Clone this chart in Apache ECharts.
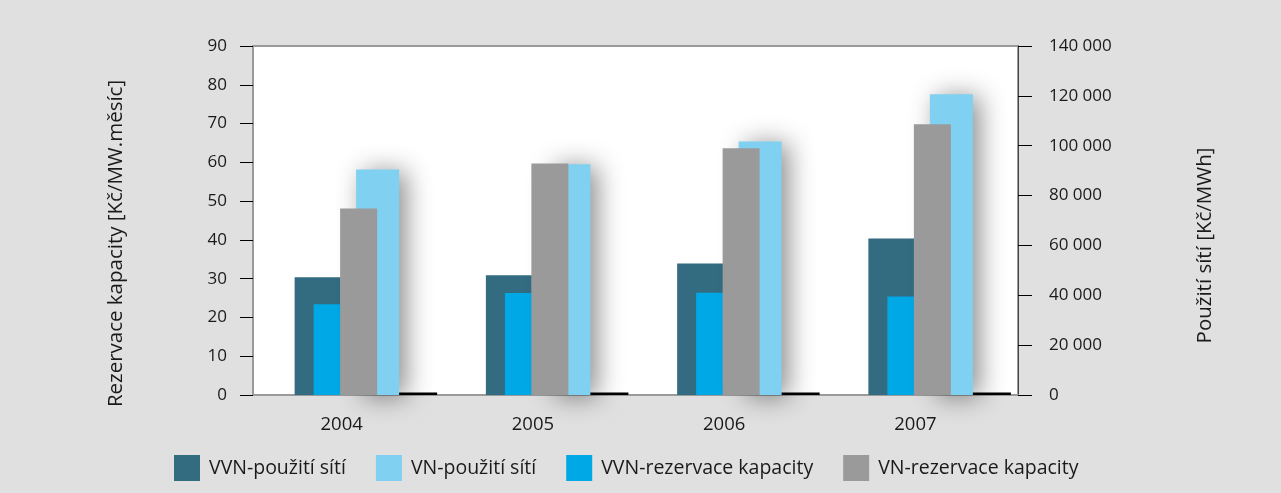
<!DOCTYPE html>
<html>
<head>
<meta charset="utf-8">
<script src="https://cdn.jsdelivr.net/npm/echarts@6/dist/echarts.min.js"></script>
<style>
  html, body { margin: 0; padding: 0; background: #e0e0e0; }
  #graf { width: 1281px; height: 493px; }
</style>
</head>
<body>
<div id="graf"></div>
<script>
// data
const roky = ['2004', '2005', '2006', '2007'];
const vvnPouziti = [47200, 48000, 52800, 62800];      // Kč/MWh, pravá osa
const vnPouziti = [90500, 92600, 101700, 120600];     // Kč/MWh, pravá osa
const vvnRezervace = [23.4, 26.3, 26.4, 25.4];        // Kč/MW.měsíc, levá osa
const vnRezervace = [48.1, 59.7, 63.6, 69.8];         // Kč/MW.měsíc, levá osa
const nulovaRada = [0, 0, 0, 0];
const levaOsaTicky = [0, 90, 10];
const pravaOsaTicky = [0, 140000, 20000];

const barvy = ['#336b80', '#7fd0f1', '#00a8e6', '#9a9a9a'];
const nazvy = ['VVN-použití sítí', 'VN-použití sítí', 'VVN-rezervace kapacity', 'VN-rezervace kapacity'];

const font = '"Open Sans", "Noto Sans", sans-serif';
const gridLeft = 253, gridRight = 263, gridTop = 46, gridBottom = 98;
// posun sloupců vůči středu kategorie (px)
const posuny = [0, -31, -20, 63.5, 29, 10];

var chart = echarts.init(document.getElementById('graf'));

let grids = posuny.map((dx, i) => ({
  left: gridLeft + dx,
  right: gridRight - dx,
  top: gridTop,
  bottom: gridBottom,
  show: i === 0,
  backgroundColor: '#fff',
  borderColor: '#9a9a9a',
  borderWidth: i === 0 ? 2 : 0
}));

let xAxes = posuny.map((dx, i) => ({
  type: 'category',
  gridIndex: i,
  data: roky,
  show: i === 0,
  axisLine: { lineStyle: { color: '#9a9a9a', width: 2 } },
  axisTick: { length: 12, lineStyle: { color: '#000', width: 1 } },
  axisLabel: { fontSize: 18.5, color: '#1a1a1a', fontFamily: font, margin: 20, padding: [0, 14, 0, 0] }
}));

function mezery(v) {
  return String(v).replace(/\B(?=(\d{3})+(?!\d))/g, ' ');
}

let yAxes = [
  {
    type: 'value', gridIndex: 0, position: 'left',
    min: levaOsaTicky[0], max: levaOsaTicky[1], interval: levaOsaTicky[2],
    name: 'Rezervace kapacity [Kč/MW.měsíc]',
    nameLocation: 'middle', nameRotate: 90, nameGap: 126,
    nameTextStyle: { fontSize: 20.5, color: '#1a1a1a', fontFamily: font, padding: [0, 46, 0, 0] },
    axisLine: { show: true, lineStyle: { color: '#9a9a9a', width: 2 } },
    axisTick: { show: true, length: 13, lineStyle: { color: '#000', width: 1 } },
    axisLabel: { fontSize: 17, color: '#1a1a1a', fontFamily: font, margin: 26 },
    splitLine: { show: false }
  },
  {
    type: 'value', gridIndex: 0, position: 'right',
    min: pravaOsaTicky[0], max: pravaOsaTicky[1], interval: pravaOsaTicky[2],
    name: 'Použití sítí [Kč/MWh]',
    nameLocation: 'middle', nameRotate: 90, nameGap: 177,
    nameTextStyle: { fontSize: 20.5, color: '#1a1a1a', fontFamily: font, padding: [0, 50, 0, 0] },
    axisLine: { show: true, lineStyle: { color: '#444', width: 1 } },
    axisTick: { show: true, length: 14, lineStyle: { color: '#000', width: 1 } },
    axisLabel: { fontSize: 17, color: '#1a1a1a', fontFamily: font, margin: 31, formatter: mezery },
    splitLine: { show: false }
  }
];
// skryté osy pro posunuté mřížky
const skalaMrizky = [null, 'prava', 'leva', 'leva', 'prava', 'leva'];
for (let i = 1; i < posuny.length; i++) {
  const t = skalaMrizky[i] === 'prava' ? pravaOsaTicky : levaOsaTicky;
  yAxes.push({ type: 'value', gridIndex: i, show: false, min: t[0], max: t[1], splitLine: { show: false } });
}

var option = {
  backgroundColor: '#e0e0e0',
  animation: false,
  grid: grids,
  xAxis: xAxes,
  yAxis: yAxes,
  legend: {
    data: nazvy,
    bottom: 7,
    left: 169,
    itemWidth: 26,
    itemHeight: 26,
    itemGap: 30,
    icon: 'rect',
    textStyle: { fontSize: 19.5, color: '#1a1a1a', fontFamily: font, padding: [0, 0, 0, 4] }
  },
  series: [
    {
      name: nazvy[0], type: 'bar', data: vvnPouziti,
      xAxisIndex: 1, yAxisIndex: 2, barWidth: 46, clip: false,
      itemStyle: { color: barvy[0] }
    },
    {
      name: nazvy[2], type: 'bar', data: vvnRezervace,
      xAxisIndex: 2, yAxisIndex: 3, barWidth: 30, clip: false,
      itemStyle: { color: barvy[2] }
    },
    {
      name: 'nula', type: 'bar', data: nulovaRada,
      xAxisIndex: 3, yAxisIndex: 4, barWidth: 50, barMinHeight: 2.5, clip: false,
      itemStyle: { color: '#000' }
    },
    {
      name: nazvy[1], type: 'bar', data: vnPouziti,
      xAxisIndex: 4, yAxisIndex: 5, barWidth: 43, clip: false,
      itemStyle: {
        color: barvy[1],
        shadowColor: 'rgba(0,0,0,0.45)', shadowBlur: 26, shadowOffsetX: 7, shadowOffsetY: 2
      }
    },
    {
      name: nazvy[3], type: 'bar', data: vnRezervace,
      xAxisIndex: 5, yAxisIndex: 6, barWidth: 37, clip: false,
      itemStyle: { color: barvy[3] }
    }
  ]
};

chart.setOption(option);
</script>
</body>
</html>
